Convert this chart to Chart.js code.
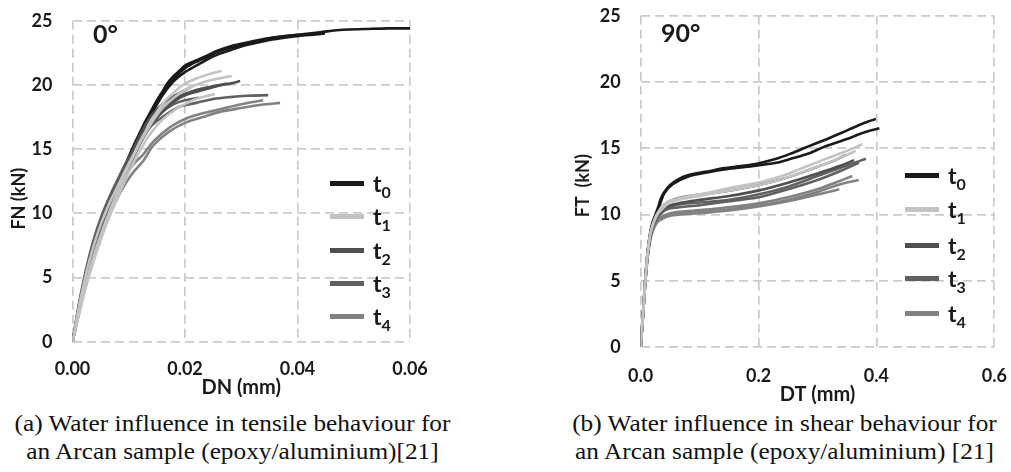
<!DOCTYPE html>
<html>
<head>
<meta charset="utf-8">
<script src="https://cdn.jsdelivr.net/npm/chart.js@4.4.0/dist/chart.umd.min.js"></script>
<style>
body { margin: 0; background: #fff; width: 1011px; height: 472px; overflow: hidden; position: relative; font-family: Lato, sans-serif; }
.box { position: absolute; }
.tag { position: absolute; font: 700 25px Lato; color: #1a1a1a; line-height: 25px; }
.leg { position: absolute; display: flex; align-items: center; height: 30px; }
.leg i { display: inline-block; width: 34px; height: 5px; margin-right: 9px; }
.leg span { font: 700 23px Lato; color: #1a1a1a; line-height: 30px; }
.leg sub { font-size: 16px; line-height: 0; }
.cap { position: absolute; top: 410px; font: 23px "Liberation Serif", serif; color: #111; text-align: center; white-space: nowrap; line-height: 28px; transform: scaleX(1.1); }
</style>
</head>
<body>
<div class="box" style="left:0;top:0;width:440px;height:400px"><canvas id="chart-fn" width="440" height="400"></canvas></div>
<div class="box" style="left:540px;top:0;width:471px;height:410px"><canvas id="chart-ft" width="471" height="410"></canvas></div>
<div class="tag" style="left:93px;top:21px">0°</div>
<div class="tag" style="left:661px;top:20px">90°</div>
<div id="leg-fn"></div>
<div id="leg-ft"></div>
<div class="cap" style="left:0;width:465px">(a) Water influence in tensile behaviour for<br>an Arcan sample (epoxy/aluminium)[21]</div>
<div class="cap" style="left:558px;width:453px">(b) Water influence in shear behaviour for<br>an Arcan sample (epoxy/aluminium) [21]</div>
<script>
// series names + grey levels
const serieNombres = ['0', '1', '2', '3', '4'];
const serieColores = ['#1a1a1a', '#c3c3c3', '#4f4f4f', '#606060', '#828282'];

// ---- 0° : DN (mm) vs FN (kN) ----
const fnT0a = [[0,0],[0.001,2.2],[0.002,4.3],[0.003,6.1],[0.004,7.7],[0.005,9.0],[0.006,10.2],[0.007,11.3],[0.008,12.4],[0.009,13.4],[0.010,14.4],[0.011,15.4],[0.012,16.3],[0.013,17.2],[0.014,18.0],[0.015,18.8],[0.016,19.5],[0.017,20.2],[0.018,20.7],[0.019,21.1],[0.020,21.5],[0.022,21.9],[0.024,22.3],[0.026,22.7],[0.028,23.0],[0.030,23.2],[0.032,23.4],[0.036,23.7],[0.040,23.9],[0.044,24.1],[0.048,24.3],[0.052,24.35],[0.056,24.4],[0.060,24.4]];
const fnT0b = [[0,0],[0.001,2.0],[0.002,4.0],[0.003,5.8],[0.004,7.4],[0.005,8.8],[0.006,10.0],[0.007,11.1],[0.008,12.2],[0.009,13.2],[0.010,14.2],[0.011,15.1],[0.012,16.0],[0.013,16.9],[0.014,17.7],[0.016,19.2],[0.018,20.3],[0.020,21.0],[0.022,21.5],[0.024,22.0],[0.026,22.4],[0.028,22.7],[0.030,23.0],[0.032,23.2],[0.035,23.5],[0.038,23.7],[0.041,23.85],[0.0449,24.0]];
const fnT0c = [[0,0],[0.001,2.1],[0.002,4.1],[0.003,5.9],[0.004,7.5],[0.005,8.9],[0.006,10.1],[0.007,11.2],[0.008,12.3],[0.009,13.3],[0.010,14.3],[0.011,15.2],[0.012,16.1],[0.013,17.0],[0.014,17.9],[0.016,19.4],[0.018,20.5],[0.020,21.3],[0.022,21.8],[0.024,22.2],[0.026,22.6],[0.028,22.9],[0.030,23.1],[0.033,23.4],[0.036,23.7],[0.0404,23.9]];
const fnT1a = [[0,0],[0.001,2.4],[0.002,4.5],[0.003,6.3],[0.004,7.8],[0.005,9.1],[0.006,10.2],[0.007,11.2],[0.008,12.1],[0.009,13.0],[0.010,13.9],[0.011,14.7],[0.012,15.6],[0.013,16.4],[0.014,17.2],[0.015,17.9],[0.016,18.5],[0.017,19.0],[0.018,19.4],[0.019,19.8],[0.020,20.1],[0.022,20.5],[0.024,20.8],[0.0265,21.1]];
const fnT1b = [[0,0],[0.001,1.9],[0.002,3.8],[0.003,5.5],[0.004,7.0],[0.005,8.3],[0.006,9.5],[0.007,10.6],[0.008,11.7],[0.009,12.7],[0.010,13.7],[0.012,15.5],[0.014,17.0],[0.016,18.2],[0.018,19.0],[0.020,19.6],[0.022,20.0],[0.024,20.3],[0.026,20.5],[0.0283,20.7]];
const fnT1c = [[0,0],[0.001,1.8],[0.002,3.6],[0.003,5.2],[0.004,6.6],[0.005,7.9],[0.006,9.1],[0.007,10.2],[0.008,11.2],[0.009,12.2],[0.010,13.2],[0.012,14.9],[0.014,16.3],[0.016,17.3],[0.018,18.0],[0.020,18.5],[0.022,18.9],[0.0253,19.3]];
const fnT2a = [[0,0],[0.001,2.1],[0.002,4.0],[0.003,5.7],[0.004,7.2],[0.005,8.5],[0.006,9.7],[0.007,10.8],[0.008,11.9],[0.009,12.9],[0.010,13.9],[0.012,15.7],[0.014,17.1],[0.016,18.2],[0.018,18.9],[0.020,19.3],[0.022,19.6],[0.025,19.9],[0.028,20.1],[0.0298,20.3]];
const fnT2b = [[0,0],[0.001,2.2],[0.002,4.2],[0.003,6.0],[0.004,7.5],[0.005,8.8],[0.006,10.0],[0.007,11.1],[0.008,12.2],[0.009,13.2],[0.010,14.2],[0.012,16.1],[0.014,17.6],[0.016,18.5],[0.018,19.1],[0.0209,19.8]];
const fnT2c = [[0,0],[0.001,2.0],[0.002,3.9],[0.003,5.6],[0.004,7.1],[0.005,8.4],[0.006,9.6],[0.007,10.7],[0.008,11.7],[0.009,12.7],[0.010,13.6],[0.012,15.4],[0.014,16.9],[0.016,17.9],[0.018,18.7],[0.020,19.2],[0.0232,19.6],[0.0274,20.1]];
const fnT3a = [[0,0],[0.001,2.3],[0.002,4.3],[0.003,6.0],[0.004,7.5],[0.005,8.8],[0.006,10.0],[0.007,11.1],[0.008,12.1],[0.009,13.1],[0.010,14.0],[0.012,15.6],[0.014,16.8],[0.016,17.5],[0.019,18.3],[0.022,18.6],[0.025,18.9],[0.028,19.05],[0.031,19.15],[0.0348,19.2]];
const fnT3b = [[0,0],[0.001,2.6],[0.002,4.8],[0.003,6.7],[0.004,8.3],[0.005,9.6],[0.006,10.7],[0.007,11.7],[0.008,12.6],[0.009,13.5],[0.010,14.3],[0.012,15.8],[0.014,17.0],[0.016,17.9],[0.018,18.5],[0.020,18.8],[0.0225,19.0]];
const fnT4a = [[0,0],[0.001,2.0],[0.002,3.9],[0.003,5.5],[0.004,7.0],[0.005,8.2],[0.006,9.3],[0.007,10.3],[0.008,11.2],[0.009,12.0],[0.010,12.7],[0.011,13.3],[0.0126,14.1],[0.0144,15.3],[0.0173,16.4],[0.0203,17.1],[0.0232,17.5],[0.0262,17.9],[0.030,18.2],[0.0335,18.45],[0.0369,18.6]];
const fnT4b = [[0,0],[0.001,2.5],[0.002,4.7],[0.003,6.5],[0.004,8.0],[0.005,9.2],[0.006,10.2],[0.007,11.1],[0.008,11.9],[0.009,12.6],[0.010,13.3],[0.011,13.9],[0.0126,14.6],[0.0144,15.6],[0.0173,16.7],[0.0203,17.4],[0.0232,17.8],[0.0262,18.1],[0.030,18.5],[0.0339,18.8]];

// ---- 90° : DT (mm) vs FT (kN) ----
const ftT0a = [[0,0],[0.004,2.6],[0.008,5.3],[0.012,7.3],[0.016,8.6],[0.020,9.4],[0.025,10.0],[0.030,10.6],[0.035,11.3],[0.045,12.0],[0.055,12.4],[0.070,12.8],[0.083,13.0],[0.100,13.15],[0.120,13.3],[0.142,13.5],[0.170,13.65],[0.199,13.85],[0.230,14.2],[0.255,14.6],[0.280,15.05],[0.311,15.6],[0.340,16.15],[0.368,16.7],[0.385,17.0],[0.399,17.2]];
const ftT0b = [[0,0],[0.004,2.5],[0.008,5.2],[0.012,7.2],[0.016,8.5],[0.020,9.3],[0.025,9.9],[0.030,10.4],[0.040,11.6],[0.055,12.3],[0.083,12.9],[0.110,13.15],[0.142,13.4],[0.170,13.55],[0.199,13.7],[0.230,13.9],[0.255,14.2],[0.285,14.6],[0.311,15.1],[0.350,15.7],[0.380,16.2],[0.405,16.5]];
const ftT1a = [[0,0],[0.004,2.5],[0.008,5.2],[0.012,7.2],[0.016,8.5],[0.020,9.2],[0.025,9.8],[0.030,10.2],[0.040,10.8],[0.055,11.1],[0.083,11.4],[0.111,11.6],[0.150,12.0],[0.199,12.4],[0.240,12.9],[0.280,13.6],[0.320,14.3],[0.350,14.8],[0.376,15.3]];
const ftT1b = [[0,0],[0.004,2.5],[0.008,5.1],[0.012,7.1],[0.016,8.4],[0.020,9.1],[0.025,9.7],[0.030,10.1],[0.050,10.9],[0.100,11.4],[0.150,11.8],[0.200,12.2],[0.250,12.8],[0.300,13.6],[0.340,14.3],[0.365,14.8]];
const ftT2a = [[0,0],[0.004,2.5],[0.008,5.2],[0.012,7.2],[0.016,8.4],[0.020,9.2],[0.025,9.7],[0.030,10.1],[0.045,10.9],[0.070,11.3],[0.100,11.5],[0.150,11.8],[0.199,12.2],[0.250,12.8],[0.300,13.6],[0.330,14.1],[0.348,14.5]];
const ftT2b = [[0,0],[0.004,2.5],[0.008,5.1],[0.012,7.1],[0.016,8.3],[0.020,9.1],[0.025,9.6],[0.030,10.0],[0.045,10.6],[0.070,10.9],[0.100,11.1],[0.150,11.4],[0.199,11.8],[0.250,12.4],[0.300,13.1],[0.340,13.7],[0.362,14.1]];
const ftT3a = [[0,0],[0.004,2.4],[0.008,5.1],[0.012,7.1],[0.016,8.3],[0.020,9.0],[0.025,9.5],[0.030,9.9],[0.045,10.5],[0.070,10.8],[0.100,10.9],[0.150,11.1],[0.199,11.5],[0.250,12.1],[0.300,12.9],[0.350,13.7],[0.382,14.2]];
const ftT3b = [[0,0],[0.004,2.4],[0.008,5.0],[0.012,7.0],[0.016,8.2],[0.020,9.0],[0.025,9.5],[0.030,9.9],[0.045,10.4],[0.100,10.7],[0.150,11.0],[0.200,11.3],[0.250,11.9],[0.300,12.6],[0.340,13.3],[0.370,13.9]];
const ftT4a = [[0,0],[0.004,2.4],[0.008,5.0],[0.012,6.9],[0.016,8.1],[0.020,8.8],[0.025,9.3],[0.030,9.6],[0.050,10.0],[0.080,10.1],[0.130,10.3],[0.200,10.7],[0.250,11.1],[0.300,11.7],[0.340,12.3],[0.370,12.6]];
const ftT4b = [[0,0],[0.004,2.5],[0.008,5.1],[0.012,7.0],[0.016,8.2],[0.020,8.9],[0.025,9.4],[0.030,9.7],[0.050,10.1],[0.080,10.25],[0.130,10.45],[0.200,10.85],[0.250,11.3],[0.300,11.9],[0.330,12.4],[0.359,12.9]];
const ftT4c = [[0,0],[0.004,2.4],[0.008,4.9],[0.012,6.8],[0.016,8.0],[0.020,8.7],[0.025,9.2],[0.030,9.5],[0.050,9.9],[0.100,10.1],[0.150,10.3],[0.200,10.6],[0.250,11.0],[0.300,11.5],[0.337,11.9]];

// curves of each series (index = serie)
const fnGrupos = [[fnT0a, fnT0b, fnT0c], [fnT1a, fnT1b, fnT1c], [fnT2a, fnT2b, fnT2c], [fnT3a, fnT3b], [fnT4a, fnT4b]];
const ftGrupos = [[ftT0a, ftT0b], [ftT1a, ftT1b], [ftT2a, ftT2b], [ftT3a, ftT3b], [ftT4a, ftT4b, ftT4c]];

const fnEjeX = { max: 0.06, step: 0.02, dec: 2, titulo: 'DN (mm)' };
const ftEjeX = { max: 0.6, step: 0.2, dec: 1, titulo: 'DT (mm)' };

const gridColor = '#cbcbcb';
const fuente = 'Lato';

function crearGrafica(id, grupos, ejeX, yTitulo, lay) {
    const datasets = [];
    grupos.forEach((curvas, g) => {
        curvas.forEach(c => {
            datasets.push({
                label: 't' + serieNombres[g],
                data: c.map(p => ({ x: p[0], y: p[1] })),
                showLine: true,
                borderColor: serieColores[g],
                borderWidth: 2.6,
                pointRadius: 0,
                tension: 0.3
            });
        });
    });
    // black last so it sits on top
    datasets.sort((a, b) => (a.label === 't0') - (b.label === 't0'));

    return new Chart(document.getElementById(id), {
        type: 'scatter',
        data: { datasets },
        options: {
            responsive: false,
            animation: false,
            layout: { padding: { top: lay.top, right: lay.right, left: 0, bottom: 0 } },
            plugins: { legend: { display: false }, tooltip: { enabled: false } },
            scales: {
                x: {
                    type: 'linear', min: 0, max: ejeX.max,
                    // fixed box, no extra room for edge labels
                    afterFit: s => { s.height = lay.xH; s.paddingLeft = 0; s.paddingRight = 0; },
                    grid: { color: gridColor, lineWidth: 1.7, drawTicks: false },
                    border: { display: false, dash: [9, 5] },
                    ticks: { stepSize: ejeX.step, padding: lay.xPad, color: '#1a1a1a',
                        font: { family: fuente, size: 18, weight: 'bold', lineHeight: 1.2 },
                        callback: v => v.toFixed(ejeX.dec) },
                    title: { display: true, text: ejeX.titulo, color: '#1a1a1a',
                        padding: { top: 0, bottom: lay.xtPad },
                        font: { family: fuente, size: 20, weight: 'bold', lineHeight: 1.2 } }
                },
                y: {
                    min: 0, max: 25,
                    afterFit: s => { s.width = lay.yW; s.paddingTop = 0; s.paddingBottom = 0; },
                    grid: { color: gridColor, lineWidth: 1.7, drawTicks: false },
                    border: { display: false, dash: [9, 5] },
                    ticks: { stepSize: 5, padding: 20, color: '#1a1a1a',
                        font: { family: fuente, size: 18, weight: 'bold', lineHeight: 1.2 } },
                    // trailing spaces nudge the rotated title below the axis middle, as in the original
                    title: { display: true, text: yTitulo, color: '#1a1a1a',
                        padding: { top: lay.ytPad, bottom: 0 },
                        font: { family: fuente, size: 18, weight: 'bold', lineHeight: 1.2 } }
                }
            }
        }
    });
}

function crearLeyenda(id, x, filas) {
    const cont = document.getElementById(id);
    filas.forEach((cy, g) => {
        const d = document.createElement('div');
        d.className = 'leg';
        d.style.left = x + 'px';
        d.style.top = (cy - 15) + 'px';
        d.innerHTML = `<i style="background:${serieColores[g]}"></i><span>t<sub>${serieNombres[g]}</sub></span>`;
        cont.appendChild(d);
    });
}

crearGrafica('chart-fn', fnGrupos, fnEjeX, 'FN (kN)        ',
    { top: 20.7, right: 30, xH: 58.3, yW: 72.5, xPad: 16.4, xtPad: 0, ytPad: 8.2 });
crearGrafica('chart-ft', ftGrupos, ftEjeX, 'FT  (kN)  ',
    { top: 15.7, right: 16.7, xH: 63, yW: 100.7, xPad: 18.2, xtPad: 3, ytPad: 31.9 });

crearLeyenda('leg-fn', 330, [183, 216, 250, 283, 316]);
crearLeyenda('leg-ft', 905, [175, 209, 245, 278, 313]);
</script>
</body>
</html>
